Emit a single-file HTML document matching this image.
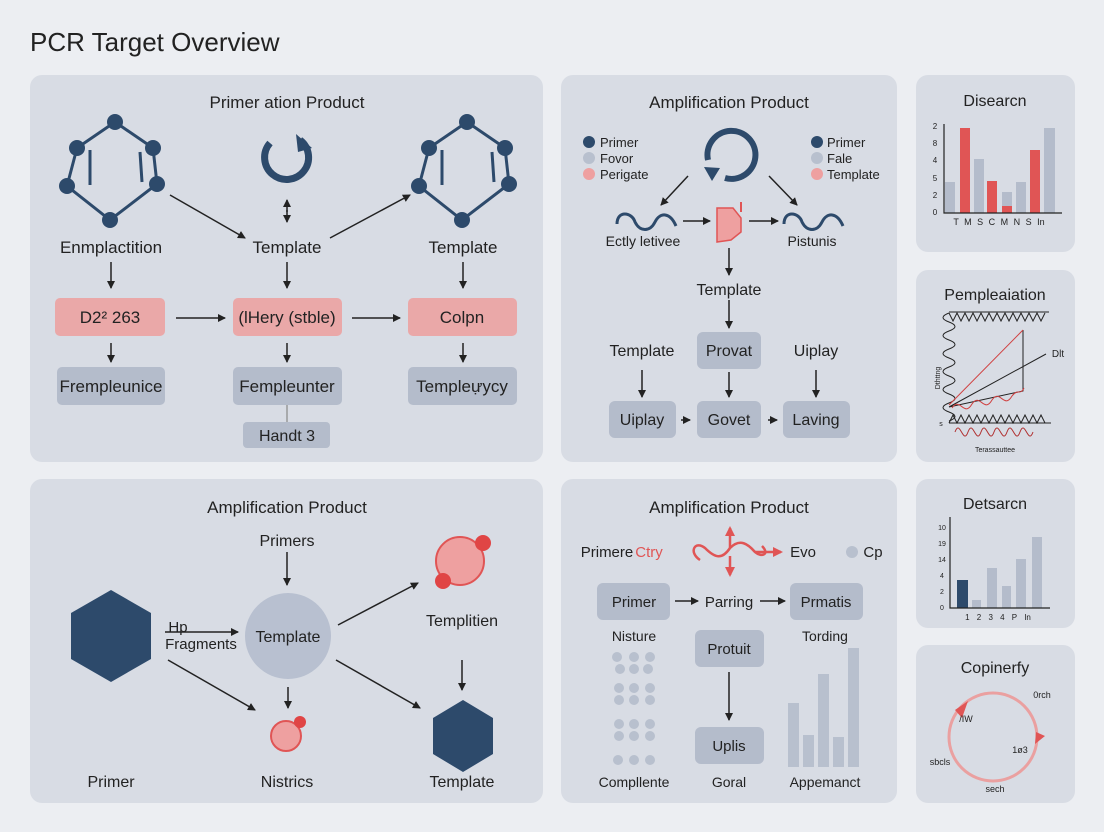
<!DOCTYPE html>
<html><head><meta charset="utf-8"><style>
html,body{margin:0;padding:0;background:#eceef2;}
svg{display:block;font-family:"Liberation Sans",sans-serif;}
</style></head><body>
<svg width="1104" height="832" viewBox="0 0 1104 832" xmlns="http://www.w3.org/2000/svg">
<defs>
<marker id="a" markerWidth="8" markerHeight="8" refX="7" refY="4" orient="auto" markerUnits="userSpaceOnUse"><path d="M0,0 L8,4 L0,8 z" fill="#222"/></marker>
<marker id="r" markerWidth="10" markerHeight="10" refX="8" refY="5" orient="auto" markerUnits="userSpaceOnUse"><path d="M0,0 L10,5 L0,10 z" fill="#e05555"/></marker>
</defs>
<rect width="1104" height="832" fill="#eceef2"/>
<text x="30" y="51" font-size="26" fill="#222" font-weight="500">PCR Target Overview</text>

<g fill="#d8dce4">
<rect x="30" y="75" width="513" height="387" rx="12"/>
<rect x="561" y="75" width="336" height="387" rx="12"/>
<rect x="916" y="75" width="159" height="177" rx="12"/>
<rect x="916" y="270" width="159" height="192" rx="12"/>
<rect x="30" y="479" width="513" height="324" rx="12"/>
<rect x="561" y="479" width="336" height="324" rx="12"/>
<rect x="916" y="479" width="159" height="149" rx="12"/>
<rect x="916" y="645" width="159" height="158" rx="12"/>
</g>

<g font-size="17" fill="#222" text-anchor="middle">
<!-- Panel 1 -->
<text x="287" y="108">Primer ation Product</text>
<g stroke="#2d4a6b" stroke-width="3" fill="none">
<path d="M77,148 L115,122 L153,148 L157,184 L110,220 L67,186 Z"/>
<path d="M90,150 L90,185 M140,152 L142,182"/>
<path d="M429,148 L467,122 L505,148 L509,184 L462,220 L419,186 Z"/>
<path d="M442,150 L442,185 M492,152 L494,182"/>
</g>
<g fill="#2d4a6b">
<circle cx="77" cy="148" r="8"/><circle cx="115" cy="122" r="8"/><circle cx="153" cy="148" r="8"/><circle cx="157" cy="184" r="8"/><circle cx="110" cy="220" r="8"/><circle cx="67" cy="186" r="8"/>
<circle cx="429" cy="148" r="8"/><circle cx="467" cy="122" r="8"/><circle cx="505" cy="148" r="8"/><circle cx="509" cy="184" r="8"/><circle cx="462" cy="220" r="8"/><circle cx="419" cy="186" r="8"/>
</g>
<path d="M300,140 A22,22 0 1,1 270,143" stroke="#2d4a6b" stroke-width="7" fill="none"/>
<path d="M296,134 L312,148 L298,152 z" fill="#2d4a6b"/>
<g stroke="#222" stroke-width="1.5" fill="none" marker-end="url(#a)">
<line x1="287" y1="210" x2="287" y2="222"/><line x1="287" y1="212" x2="287" y2="200"/>
<line x1="170" y1="195" x2="245" y2="238"/><line x1="330" y1="238" x2="410" y2="195"/>
<line x1="111" y1="262" x2="111" y2="288"/><line x1="287" y1="262" x2="287" y2="288"/><line x1="463" y1="262" x2="463" y2="288"/>
<line x1="176" y1="318" x2="225" y2="318"/><line x1="352" y1="318" x2="400" y2="318"/>
<line x1="111" y1="343" x2="111" y2="362"/><line x1="287" y1="343" x2="287" y2="362"/><line x1="463" y1="343" x2="463" y2="362"/>
</g>
<text x="111" y="253">Enmplactition</text><text x="287" y="253">Template</text><text x="463" y="253">Template</text>
<g fill="#eaa8a8"><rect x="55" y="298" width="110" height="38" rx="5"/><rect x="233" y="298" width="109" height="38" rx="5"/><rect x="408" y="298" width="109" height="38" rx="5"/></g>
<text x="110" y="323">D2² 263</text><text x="287" y="323">(lHery (stble)</text><text x="462" y="323">Colpn</text>
<g fill="#b4bccb"><rect x="57" y="367" width="108" height="38" rx="5"/><rect x="233" y="367" width="109" height="38" rx="5"/><rect x="408" y="367" width="109" height="38" rx="5"/><rect x="243" y="422" width="87" height="26" rx="4"/></g>
<line x1="287" y1="405" x2="287" y2="422" stroke="#999" stroke-width="1.5"/>
<text x="111" y="392">Frempleunice</text><text x="287" y="392">Fempleunter</text><text x="462" y="392">Templeựycy</text>
<text x="287" y="441" font-size="16">Handt 3</text>

<!-- Panel 2 -->
<text x="729" y="108">Amplification Product</text>
<g font-size="13" text-anchor="start">
<circle cx="589" cy="142" r="6" fill="#2d4a6b"/><text x="600" y="147">Primer</text>
<circle cx="589" cy="158" r="6" fill="#b8c0ce"/><text x="600" y="163">Fovor</text>
<circle cx="589" cy="174" r="6" fill="#eea0a0"/><text x="600" y="179">Perigate</text>
<circle cx="817" cy="142" r="6" fill="#2d4a6b"/><text x="827" y="147">Primer</text>
<circle cx="817" cy="158" r="6" fill="#b8c0ce"/><text x="827" y="163">Fale</text>
<circle cx="817" cy="174" r="6" fill="#eea0a0"/><text x="827" y="179">Template</text>
</g>
<path d="M708,160 A24,24 0 1,1 725,178" stroke="#2d4a6b" stroke-width="6" fill="none"/>
<path d="M704,167 L720,168 L712,181 z" fill="#2d4a6b"/>
<g stroke="#2d4a6b" stroke-width="3" fill="none">
<path d="M617,224 C617,210 632,212 635,222 C640,232 650,232 655,222 C660,212 670,212 676,226"/>
<path d="M784,224 C784,210 799,212 802,222 C807,232 817,232 822,222 C827,212 837,212 843,226"/>
</g>
<path d="M717,208 L733,208 L741,218 L741,232 L731,240 L717,242 Z" fill="#eea0a0" stroke="#e05555" stroke-width="1.5"/>
<line x1="741" y1="202" x2="741" y2="212" stroke="#e05555" stroke-width="2"/>
<g stroke="#222" stroke-width="1.5" marker-end="url(#a)">
<line x1="688" y1="176" x2="661" y2="205"/><line x1="769" y1="176" x2="797" y2="205"/>
<line x1="683" y1="221" x2="710" y2="221"/><line x1="749" y1="221" x2="778" y2="221"/>
<line x1="729" y1="248" x2="729" y2="275"/><line x1="729" y1="300" x2="729" y2="328"/>
<line x1="642" y1="370" x2="642" y2="397"/><line x1="729" y1="372" x2="729" y2="397"/><line x1="816" y1="370" x2="816" y2="397"/>
<line x1="681" y1="420" x2="690" y2="420"/><line x1="768" y1="420" x2="777" y2="420"/>
</g>
<text x="643" y="246" font-size="14">Ectly letivee</text><text x="812" y="246" font-size="14">Pistunis</text>
<text x="729" y="295" font-size="16">Template</text>
<g fill="#b4bccb"><rect x="697" y="332" width="64" height="37" rx="6"/><rect x="609" y="401" width="67" height="37" rx="6"/><rect x="697" y="401" width="64" height="37" rx="6"/><rect x="783" y="401" width="67" height="37" rx="6"/></g>
<text x="642" y="356" font-size="16">Template</text><text x="729" y="356" font-size="16">Provat</text><text x="816" y="356" font-size="16">Uiplay</text>
<text x="642" y="425" font-size="16">Uiplay</text><text x="729" y="425" font-size="16">Govet</text><text x="816" y="425" font-size="16">Laving</text>

<!-- Panel 3 -->
<text x="995" y="106" font-size="16">Disearcn</text>
<g fill="#b4bccb"><rect x="945" y="182" width="10" height="31"/><rect x="974" y="159" width="10" height="54"/><rect x="1002" y="192" width="10" height="21"/><rect x="1016" y="182" width="10" height="31"/><rect x="1044" y="128" width="11" height="85"/></g>
<g fill="#e05555"><rect x="960" y="128" width="10" height="85"/><rect x="987" y="181" width="10" height="32"/><rect x="1002" y="206" width="10" height="7"/><rect x="1030" y="150" width="10" height="63"/></g>
<path d="M944,124 L944,213 L1062,213" stroke="#222" stroke-width="1.2" fill="none"/>
<g font-size="8"><text x="935" y="129">2</text><text x="935" y="146">8</text><text x="935" y="163">4</text><text x="935" y="181">5</text><text x="935" y="198">2</text><text x="935" y="215">0</text></g>
<text x="999" y="225" font-size="9" word-spacing="3">T M S C M N S In</text>

<!-- Panel 4 -->
<text x="995" y="300" font-size="16">Pempleaiation</text>
<g fill="none" stroke="#222" stroke-width="1">
<path d="M949,312 L1049,312"/>
<path d="M949,313 l4,8 l4,-8 l4,8 l4,-8 l4,8 l4,-8 l4,8 l4,-8 l4,8 l4,-8 l4,8 l4,-8 l4,8 l4,-8 l4,8 l4,-8 l4,8 l4,-8 l4,8 l4,-8 l4,8 l4,-8 l4,8 l4,-8"/>
<path d="M949,423 L1051,423"/>
<path d="M949,423 l4,-8 l4,8 l4,-8 l4,8 l4,-8 l4,8 l4,-8 l4,8 l4,-8 l4,8 l4,-8 l4,8 l4,-8 l4,8 l4,-8 l4,8 l4,-8 l4,8 l4,-8 l4,8 l4,-8 l4,8 l4,-8 l4,8"/>
<path d="M949,313 c-8,3 -8,6 0,9 c8,3 8,6 0,9 c-8,3 -8,6 0,9 c8,3 8,6 0,9 c-8,3 -8,6 0,9 c8,3 8,6 0,9 c-8,3 -8,6 0,9 c8,3 8,6 0,9 c-8,3 -8,6 0,9 c8,3 8,6 0,9 c-8,3 -8,6 0,9 c8,3 8,6 0,9"/>
<path d="M1023,330 L1023,391 L949,407 M949,407 L1046,354"/>
</g>
<path d="M949,405 L1023,330" stroke="#d04040" stroke-width="1"/>
<path d="M952,408 c8,-12 12,10 20,-4 c8,-12 12,10 20,-4 c8,-12 12,10 20,-4 c6,-8 8,0 12,-8" stroke="#d04040" fill="none"/>
<path d="M955,432 c5,-14 8,14 13,0 c5,-14 8,14 13,0 c5,-14 8,14 13,0 c5,-14 8,14 13,0 c5,-14 8,14 13,0 c5,-14 8,14 13,0" stroke="#b03030" fill="none"/>
<text x="1058" y="357" font-size="10">Dlt</text>
<text x="940" y="378" font-size="7" transform="rotate(-90 940 378)">Dthttng</text>
<text x="995" y="452" font-size="7">Terassauttee</text>
<text x="941" y="426" font-size="7">s</text>

<!-- Panel 5 -->
<text x="287" y="513">Amplification Product</text>
<text x="287" y="546" font-size="16">Primers</text>
<polygon points="111,590 151,613 151,659 111,682 71,659 71,613" fill="#2d4a6b"/>
<circle cx="288" cy="636" r="43" fill="#b8c0d0"/>
<text x="288" y="642" font-size="16">Template</text>
<text x="178" y="632" font-size="15">Hp</text><text x="201" y="649" font-size="15">Fragments</text>
<circle cx="460" cy="561" r="24" fill="#eea0a0" stroke="#e05555" stroke-width="2"/>
<circle cx="483" cy="543" r="8" fill="#e04545"/><circle cx="443" cy="581" r="8" fill="#e04545"/>
<text x="462" y="626" font-size="16">Templitien</text>
<polygon points="463,700 493,718 493,754 463,772 433,754 433,718" fill="#2d4a6b"/>
<circle cx="286" cy="736" r="15" fill="#eea0a0" stroke="#e05555" stroke-width="2"/>
<circle cx="300" cy="722" r="6" fill="#e04545"/>
<g stroke="#222" stroke-width="1.5" marker-end="url(#a)">
<line x1="287" y1="552" x2="287" y2="585"/><line x1="165" y1="632" x2="238" y2="632"/>
<line x1="338" y1="625" x2="418" y2="583"/><line x1="462" y1="660" x2="462" y2="690"/>
<line x1="336" y1="660" x2="420" y2="708"/><line x1="168" y1="660" x2="255" y2="710"/>
<line x1="288" y1="687" x2="288" y2="708"/>
</g>
<text x="111" y="787" font-size="16">Primer</text><text x="287" y="787" font-size="16">Nistrics</text><text x="462" y="787" font-size="16">Template</text>

<!-- Panel 6 -->
<text x="729" y="513">Amplification Product</text>
<text x="607" y="557" font-size="15">Primere</text><text x="649" y="557" font-size="15" fill="#e05555">Ctry</text>
<path d="M700,560 C688,552 695,540 705,548 C715,558 722,560 730,548 C740,538 748,544 755,552 C762,558 770,554 762,546" stroke="#e05555" stroke-width="2.5" fill="none"/>
<g stroke="#e05555" stroke-width="2.5" marker-end="url(#r)">
<line x1="755" y1="552" x2="781" y2="552"/><line x1="730" y1="548" x2="730" y2="528"/><line x1="730" y1="556" x2="730" y2="575"/>
</g>
<text x="803" y="557" font-size="15">Evo</text>
<circle cx="852" cy="552" r="6" fill="#b8c0ce"/><text x="873" y="557" font-size="15">Cp</text>
<g fill="#b4bccb"><rect x="597" y="583" width="73" height="37" rx="6"/><rect x="790" y="583" width="73" height="37" rx="6"/><rect x="695" y="630" width="69" height="37" rx="6"/><rect x="695" y="727" width="69" height="37" rx="6"/></g>
<text x="634" y="607" font-size="15">Primer</text><text x="729" y="607" font-size="15">Parring</text><text x="826" y="607" font-size="15">Prmatis</text>
<g stroke="#222" stroke-width="1.5" marker-end="url(#a)">
<line x1="675" y1="601" x2="698" y2="601"/><line x1="760" y1="601" x2="785" y2="601"/>
<line x1="729" y1="672" x2="729" y2="720"/>
</g>
<text x="634" y="641" font-size="14">Nisture</text><text x="825" y="641" font-size="14">Tording</text>
<text x="729" y="654" font-size="15">Protuit</text><text x="729" y="751" font-size="15">Uplis</text>
<g fill="#b8c0ce">
<circle cx="617" cy="657" r="5"/><circle cx="634" cy="657" r="5"/><circle cx="650" cy="657" r="5"/>
<circle cx="620" cy="669" r="5"/><circle cx="634" cy="669" r="5"/><circle cx="648" cy="669" r="5"/>
<circle cx="619" cy="688" r="5"/><circle cx="634" cy="688" r="5"/><circle cx="650" cy="688" r="5"/>
<circle cx="619" cy="700" r="5"/><circle cx="634" cy="700" r="5"/><circle cx="650" cy="700" r="5"/>
<circle cx="619" cy="724" r="5"/><circle cx="634" cy="724" r="5"/><circle cx="650" cy="724" r="5"/>
<circle cx="619" cy="736" r="5"/><circle cx="634" cy="736" r="5"/><circle cx="650" cy="736" r="5"/>
<circle cx="618" cy="760" r="5"/><circle cx="634" cy="760" r="5"/><circle cx="650" cy="760" r="5"/>
<rect x="788" y="703" width="11" height="64"/><rect x="803" y="735" width="11" height="32"/><rect x="818" y="674" width="11" height="93"/><rect x="833" y="737" width="11" height="30"/><rect x="848" y="648" width="11" height="119"/>
</g>
<text x="634" y="787" font-size="14">Compllente</text><text x="729" y="787" font-size="14">Goral</text><text x="825" y="787" font-size="14">Appemanct</text>

<!-- Panel 7 -->
<text x="995" y="509" font-size="16">Detsarcn</text>
<rect x="957" y="580" width="11" height="28" fill="#2d4a6b"/>
<g fill="#b4bccb"><rect x="972" y="600" width="9" height="8"/><rect x="987" y="568" width="10" height="40"/><rect x="1002" y="586" width="9" height="22"/><rect x="1016" y="559" width="10" height="49"/><rect x="1032" y="537" width="10" height="71"/></g>
<path d="M950,517 L950,608 L1050,608" stroke="#222" stroke-width="1.2" fill="none"/>
<g font-size="7"><text x="942" y="530">10</text><text x="942" y="546">19</text><text x="942" y="562">14</text><text x="942" y="578">4</text><text x="942" y="594">2</text><text x="942" y="610">0</text></g>
<text x="998" y="620" font-size="8" word-spacing="5">1 2 3 4 P In</text>

<!-- Panel 8 -->
<text x="995" y="673" font-size="16">Copinerfy</text>
<circle cx="993" cy="737" r="44" fill="none" stroke="#eaa0a0" stroke-width="3"/>
<path d="M955,710 L968,701 L962,718 z" fill="#e05555"/>
<path d="M1036,732 L1045,736 L1035,744 z" fill="#e05555"/>
<g font-size="9"><text x="1042" y="698">0rch</text><text x="966" y="722">/IW</text><text x="1020" y="753">1ø3</text><text x="940" y="765">sbcls</text><text x="995" y="792">sech</text></g>
</g>
</svg>
</body></html>
